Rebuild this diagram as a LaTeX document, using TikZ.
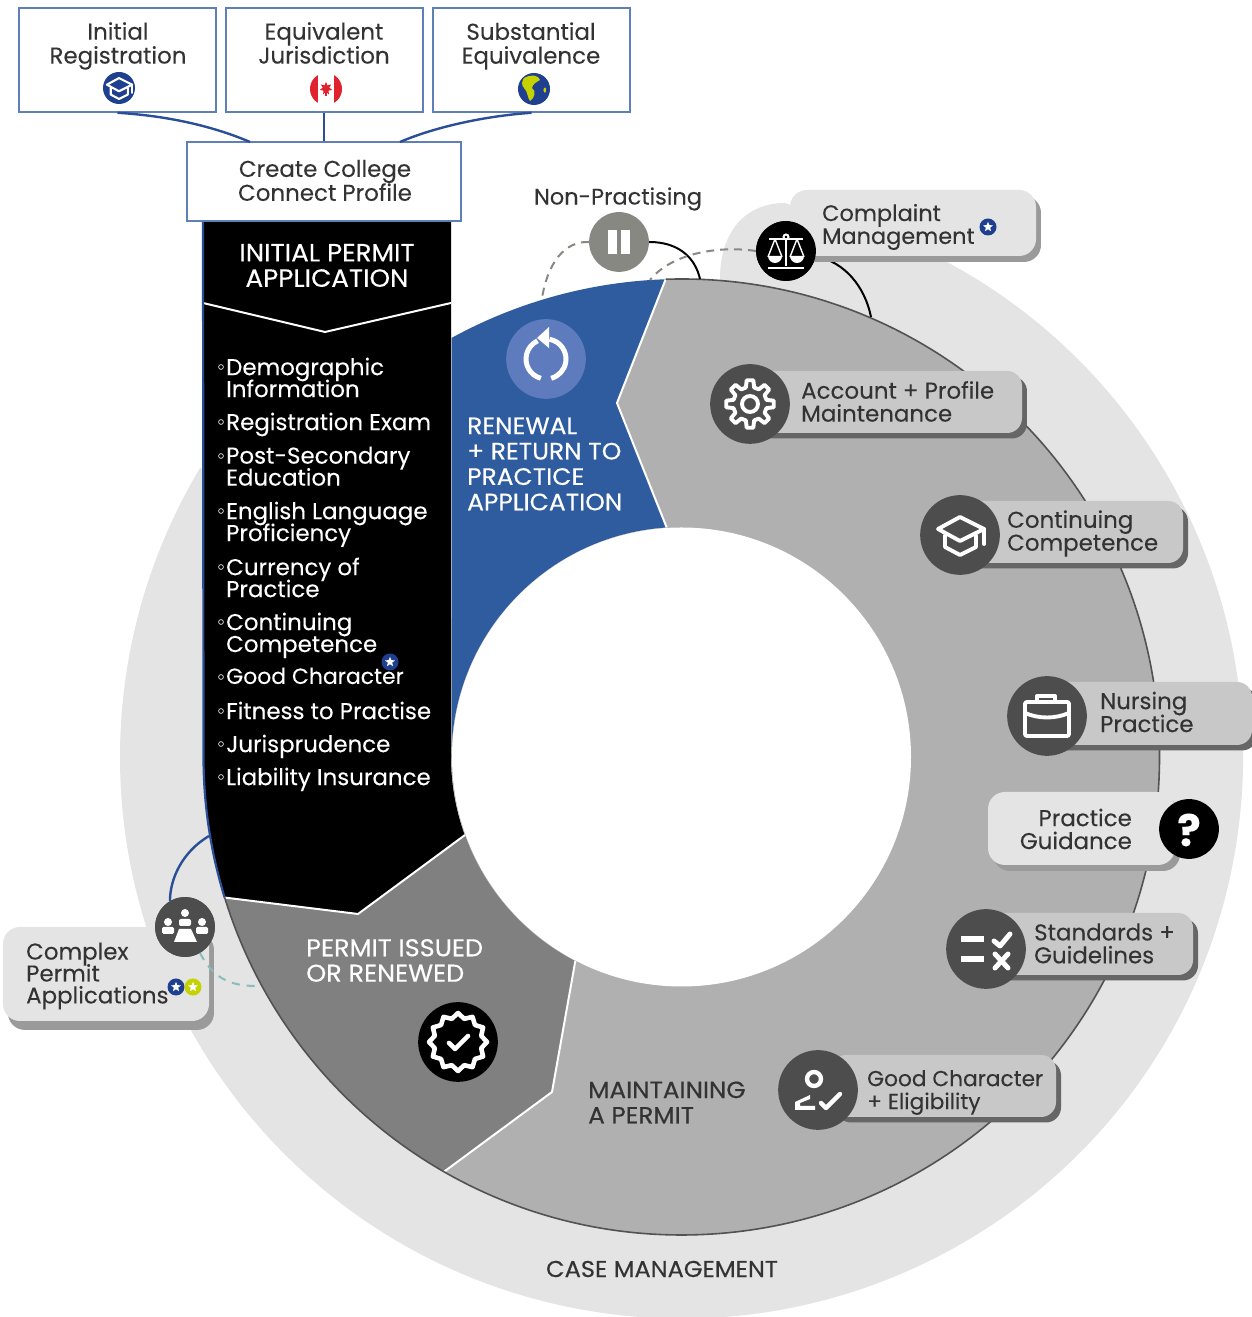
\documentclass[tikz,border=0pt]{standalone}
\usepackage{fontspec}
\setmainfont[FakeBold=0.12]{Poppins}
\newfontfamily\headfont[FakeStretch=1.05,FakeBold=0.35]{Poppins}
\usetikzlibrary{shapes.geometric,shadows}
\newcommand{\tightlines}{\lineskiplimit=-30pt\relax}
\definecolor{ringfill}{HTML}{E4E4E4}
\definecolor{keepfill}{HTML}{B0B0B0}
\definecolor{issuefill}{HTML}{808080}
\definecolor{renewfill}{HTML}{2F5C9E}
\definecolor{renewdisc}{HTML}{5E7CBD}
\definecolor{boxline}{HTML}{5F7FB8}
\definecolor{linkblue}{HTML}{2B4F96}
\definecolor{navy}{HTML}{1F3F8F}
\definecolor{lime}{HTML}{C5D200}
\definecolor{pillfill}{HTML}{C8C8C8}
\definecolor{pillshade}{HTML}{666666}
\definecolor{softshade}{HTML}{9A9A9A}
\definecolor{discdark}{HTML}{4D4D4D}
\definecolor{discpause}{HTML}{888882}
\definecolor{inkdark}{HTML}{333333}
\definecolor{leafred}{HTML}{E0212E}
\tikzset{
  infobox/.style={draw=boxline,line width=1.6pt,fill=white,inner sep=0pt},
  boxtext/.style={align=center,text=inkdark,font=\fontsize{23}{24}\selectfont\tightlines},
  headtext/.style={align=left,font=\headfont\fontsize{23}{25.5}\selectfont\tightlines},
  listtext/.style={align=left,text=white,anchor=north west,inner sep=0pt,font=\fontsize{23}{22}\selectfont\tightlines},
  pilltext/.style={align=left,text=inkdark,anchor=west,inner sep=0pt,font=\fontsize{23}{23}\selectfont\tightlines},
  pill/.style={rounded corners=15pt,fill=pillfill,inner sep=0pt,
    copy shadow={shadow xshift=5pt,shadow yshift=-5.5pt,fill=pillshade,draw=none}},
  softpill/.style={rounded corners=17pt,fill=ringfill,inner sep=0pt,
    copy shadow={shadow xshift=5pt,shadow yshift=-6pt,fill=softshade,draw=none}},
  icondisc/.style={circle,fill=discdark,minimum size=80pt,inner sep=0pt},
  blackdisc/.style={circle,fill=black,minimum size=60pt,inner sep=0pt},
  glyph/.style={draw=white,line width=3.9pt,line join=round,line cap=round,fill=none},
  linkline/.style={draw=linkblue,line width=2.4pt},
  dashline/.style={draw=discpause,line width=2pt,dash pattern=on 8pt off 6pt},
  solidline/.style={draw=black,line width=2pt},
  pics/gearglyph/.style={code={
    \draw[glyph] (-14:17) \foreach \a in {0,45,...,315}{ -- (\a-14:17) -- (\a-8:24) -- (\a+8:24) -- (\a+14:17)} -- cycle;
    \draw[glyph] (0,0) circle[radius=8];
  }},
  pics/capglyph/.style={code={
    \draw[glyph] (-22,6) -- (0,18) -- (24,6) -- (0,-6) -- cycle;
    \draw[glyph] (-15,0) -- (-15,-12) -- (0,-20) -- (16,-12) -- (16,0);
    \draw[glyph] (24,6) -- (24,-9);
  }},
  pics/caseglyph/.style={code={
    \draw[glyph,rounded corners=2pt] (-22,-20) rectangle (22,14);
    \draw[glyph] (-10,14) -- (-10,20) -- (8,20) -- (8,14);
    \draw[glyph] (-22,3) .. controls (-8,-3) and (8,-3) .. (22,3);
  }},
  pics/rulesglyph/.style={code={
    \draw[glyph,line width=5.6pt,line cap=butt] (-25,10) -- (-2,10);
    \draw[glyph,line width=5.6pt,line cap=butt] (-25,-10) -- (-2,-10);
    \draw[glyph,line width=5pt] (8,8) -- (14,3) -- (24,15);
    \draw[glyph,line width=5pt] (9,-5) -- (22,-19);
    \draw[glyph,line width=5pt] (22,-5) -- (9,-19);
  }},
  pics/personglyph/.style={code={
    \draw[glyph,line width=4.4pt] (-4,11) circle[radius=7];
    \fill[white] (-8,-5) -- (-23,-12) -- (-23,-20) -- (-3,-20) -- (-3,-16) -- (-18,-16) -- (-18,-13) -- (-8,-9) -- cycle;
    \draw[glyph,line width=4.4pt] (3,-13) -- (8,-18) -- (22,-4);
  }},
  pics/scalesglyph/.style={code={
    \draw[white,line width=2pt] (0,14) circle[radius=2.5];
    \draw[white,line width=2.4pt] (0,11) -- (0,-15);
    \draw[white,line width=2.4pt] (-18,-17) -- (18,-17);
    \draw[white,line width=2.2pt] (-17,12) -- (17,12);
    \foreach \s in {-1,1}{
      \draw[white,line width=1.4pt] (\s*11,12) -- (\s*18,-6) (\s*11,12) -- (\s*4,-6);
      \fill[white] (\s*11+7,-5) arc[start angle=0,end angle=-180,radius=7] -- cycle;
    }
  }},
  pics/pauseglyph/.style={code={
    \fill[white] (-11,-12) rectangle (-2,12);
    \fill[white] (2,-12) rectangle (11,12);
  }},
  pics/reloadglyph/.style={code={
    \draw[white,line width=5pt] (80:20) arc[start angle=80,end angle=-75,radius=20];
    \draw[white,line width=5pt] (-105:20) arc[start angle=-105,end angle=-245,radius=20];
    \fill[white] (-9,21) -- (3,32) -- (3,11) -- cycle;
  }},
  pics/sealglyph/.style={code={
    \draw[glyph,line width=4.6pt] (0:29) \foreach \a in {15,45,...,345}{ -- (\a:24) -- (\a+15:29)} -- cycle;
    \draw[glyph,line width=4.6pt] (-9,-1) -- (-3,-7) -- (10,6);
  }},
  pics/meetglyph/.style={code={
    \fill[white] (0,14) circle[radius=4];
    \fill[white,rounded corners=2pt] (-6,1) -- (-6,8) -- (6,8) -- (6,1) -- cycle;
    \fill[white] (-6,-2) -- (6,-2) -- (12,-15) -- (-11,-15) -- cycle;
    \foreach \s in {-1,1}{
      \fill[white] (\s*17,5) circle[radius=4];
      \fill[white,rounded corners=1.5pt] (\s*23,-7) -- (\s*23,0) -- (\s*11,0) -- (\s*11,-7) -- cycle;
    }
  }},
  pics/flagglyph/.style={code={
    \fill[white] (0,0) circle[radius=16];
    \begin{scope}
      \clip (0,0) circle[radius=16];
      \fill[leafred] (-16,-16) rectangle (-8,16);
      \fill[leafred] (8,-16) rectangle (16,16);
    \end{scope}
    \node[star,star points=7,star point ratio=1.9,fill=leafred,minimum size=13pt,inner sep=0pt] (-leaf) at (0,0.5) {};
    \fill[leafred] (-0.7,-7) rectangle (0.7,0);
  }},
  pics/globeglyph/.style={code={
    \fill[navy] (0,0) circle[radius=16];
    \fill[lime] (-10,11) .. controls (-4,15) and (5,14) .. (6,9) .. controls (1,6) and (-1,5) .. (-2,1)
      .. controls (3,-2) and (0,-10) .. (-4,-12) .. controls (-7,-8) and (-6,-3) .. (-10,1)
      .. controls (-13,4) and (-12,8) .. (-10,11) -- cycle;
    \fill[lime] (10,1) .. controls (12,3) and (13,-2) .. (11,-4) .. controls (9,-3) and (9,0) .. (10,1) -- cycle;
  }},
  pics/starbadge/.style={code={
    \fill[#1] (0,0) circle[radius=8.5];
    \node[star,star points=5,star point ratio=2.3,fill=white,minimum size=10.5pt,inner sep=0pt] (-mark) at (0,0) {};
  }},
}
\begin{document}
\begin{tikzpicture}[x=1bp,y=1bp]
  \useasboundingbox (0,0) rectangle (1251,1317);
  \coordinate (donut) at (681.5,560);
%% case management ring
  \fill[ringfill] (720,1038) .. controls (720,1085) and (745,1114) .. (785,1114)
    -- ([shift={(78:561.5)}]donut) arc[start angle=78,end angle=-211,radius=561.5] -- (donut) -- cycle;
%% donut
  % Maintaining
  \fill[keepfill] ([shift={(91.9:478)}]donut) arc[start angle=91.9,end angle=-119.8,radius=478]
    -- (552,225) -- ([shift={(242.5:230)}]donut) arc[start angle=242.5,end angle=93.7,radius=230]
    -- (617,914) -- cycle;
  % Issued
  \fill[issuefill] ([shift={(240.2:478)}]donut) arc[start angle=240.2,end angle=197.1,radius=478]
    -- (358,403) -- (465,482) arc[start angle=199.8,end angle=242.5,radius=230]
    -- (552,225) -- cycle;
  % Renewal
  \fill[renewfill] ([shift={(91.9:478)}]donut) -- (617,914) -- ([shift={(93.7:230)}]donut)
    arc[start angle=93.7,end angle=180,radius=230]
    -- ([shift={(118.76:478)}]donut) arc[start angle=118.76,end angle=91.9,radius=478] -- cycle;
  % Initial
  \fill[black] (203,1095) -- (451,1095) -- (451,560) arc[start angle=180,end angle=199.8,radius=230]
    -- (358,403) -- ([shift={(197.1:478)}]donut) arc[start angle=197.1,end angle=180,radius=478] -- cycle;
  \draw[white,line width=2pt] (203,1014) -- (325,985) -- (451,1014);
  \draw[white,line width=2pt] ([shift={(197.1:478)}]donut) -- (358,403) -- (465,482);
  \draw[white,line width=2pt] ([shift={(240.2:478)}]donut) -- (552,225) -- ([shift={(242.5:230)}]donut);
  \draw[white,line width=2pt] ([shift={(91.9:478)}]donut) -- (617,914) -- ([shift={(93.7:230)}]donut);
  \draw[inkdark!85,line width=1.6pt] ([shift={(91.9:478)}]donut) arc[start angle=91.9,end angle=-162.9,radius=478];
  \draw[linkblue,line width=2.2pt] (203,1095) -- (203.5,560) arc[start angle=180,end angle=197.1,radius=478];
  % Hole
  \fill[white] (donut) circle[radius=229.5];
%% intake boxes
  \node[infobox,minimum width=197bp,minimum height=104bp] (initreg) at (117.5,1257) {};
  \node[infobox,minimum width=197bp,minimum height=104bp] (equivjur) at (324.5,1257) {};
  \node[infobox,minimum width=197bp,minimum height=104bp] (substeq) at (531.5,1257) {};
  \node[infobox,minimum width=274bp,minimum height=79bp] (profile) at (324,1135.5) {};
  \coordinate (profileleft) at (250,1175);
  \coordinate (profileright) at (400,1175);
  \draw[linkline] (initreg.south) .. controls (170,1201) and (215,1190) .. (profileleft);
  \draw[linkline] (equivjur.south -| profile.north) -- (profile.north);
  \draw[linkline] (substeq.south) .. controls (485,1201) and (435,1190) .. (profileright);
  \node[boxtext] (initregtext) at (118,1271) {Initial\\Registration};
  \node[boxtext] (equivjurtext) at (324,1274) {Equivalent\\Jurisdiction};
  \node[boxtext] (substeqtext) at (531,1271) {Substantial\\Equivalence};
  \node[boxtext] (profiletext) at (325,1136.5) {Create College\\Connect Profile};
  \fill[navy] (119,1229) circle[radius=16];
  \pic[scale=.55,transform shape,glyph/.append style={line width=2.1pt}] at (119,1229) {capglyph};
  \pic at (326,1228) {flagglyph};
  \pic at (534,1228) {globeglyph};
%% panel text
  \node[headtext,align=center,text=white,font=\headfont\fontsize{25}{25.5}\selectfont\tightlines] (initialhead) at (327,1051.5) {INITIAL PERMIT\\APPLICATION};
  \foreach \y/\txt [count=\i] in {950/{Demographic\\Information},895/{Registration Exam},861/{Post-Secondary\\Education},
      806/{English Language\\Proficiency},750/{Currency of\\Practice},695/{Continuing\\Competence},
      640/{\fontsize{22}{22}\selectfont Good Character},606/{Fitness to Practise},573/{Jurisprudence},540/{Liability Insurance}}{
    \draw[white!80!black,line width=.8pt] (221,\y) circle[radius=2.4];
    \node[listtext] (item\i) at (226,\y+9.5) {\txt};
  }
  \pic at (390,655) {starbadge=navy};
%% stage text
  \node[headtext,text=white,anchor=west,inner sep=0pt,font=\headfont\fontsize{23.8}{25.5}\selectfont\tightlines] (renewtext) at (467,853) {RENEWAL\\+ RETURN TO\\PRACTICE\\APPLICATION};
  \node[headtext,text=white,anchor=west,inner sep=0pt,font=\headfont\fontsize{24.4}{25.5}\selectfont\tightlines] (issuedtext) at (306,356.5) {PERMIT ISSUED\\OR RENEWED};
  \node[headtext,text=inkdark,anchor=west,inner sep=0pt,font=\headfont\fontsize{23.6}{25.5}\selectfont\tightlines] (keeptext) at (588,214.5) {MAINTAINING\\A PERMIT};
  \node[headtext,text=inkdark] (casetext) at (662,48) {CASE MANAGEMENT};
  \node[circle,fill=renewdisc,minimum size=80pt,inner sep=0pt] (renewicon) at (546,958) {};
  \pic at (renewicon) {reloadglyph};
  \node[circle,fill=black,minimum size=80pt,inner sep=0pt] (sealicon) at (458,275) {};
  \pic at (sealicon) {sealglyph};
%% side links
  \node[circle,fill=discpause,minimum size=60pt,inner sep=0pt] (pauseicon) at (619,1075) {};
  \node[blackdisc] (scalesicon) at (786,1066) {};
  \coordinate (pausedash) at (542,1019);
  \coordinate (pausesolid) at (700,1038);
  \coordinate (scalesdash) at (650,1037);
  \coordinate (scalessolid) at (871,1000);
  \draw[dashline] (pauseicon.west) .. controls (565,1076) and (548,1055) .. (pausedash);
  \draw[solidline] (pauseicon.east) .. controls (678,1075) and (695,1060) .. (pausesolid);
  \draw[dashline] (scalesicon.west) .. controls (715,1072) and (670,1062) .. (scalesdash);
  \draw[solidline] (scalesicon.-10) .. controls (845,1055) and (865,1030) .. (scalessolid);
  \node[text=inkdark,font=\fontsize{22.6}{23}\selectfont] (pausetext) at (618,1118) {Non-Practising};
%% pills
  \node[softpill,minimum width=246bp,minimum height=66bp] (complaintpill) at (913,1094) {};
  \node[pilltext,font=\fontsize{22.5}{23}\selectfont\tightlines] (complainttext) at (822,1090) {Complaint\\Management};
  \pic at (988,1090) {starbadge=navy};
  \pic at (pauseicon) {pauseglyph};
  \node[blackdisc] (scalesicon) at (786,1066) {};
  \pic at (scalesicon) {scalesglyph};
  \node[pill,minimum width=272bp,minimum height=62bp] (accountpill) at (886,915) {};
  \node[icondisc] (accounticon) at (750,913) {};
  \pic at (accounticon) {gearglyph};
  \node[pilltext] (accounttext) at (801,915.5) {Account + Profile\\Maintenance};
  \node[pill,minimum width=223bp,minimum height=62bp] (competepill) at (1071.5,785) {};
  \node[icondisc] (competeicon) at (960,782) {};
  \pic at (competeicon) {capglyph};
  \node[pilltext] (competetext) at (1007,783.5) {Continuing\\Competence};
  \node[pill,minimum width=205bp,minimum height=63bp] (nursingpill) at (1149.5,603.5) {};
  \node[icondisc] (nursingicon) at (1047,601) {};
  \pic at (nursingicon) {caseglyph};
  \node[pilltext] (nursingtext) at (1100,605) {Nursing\\Practice};
  \node[softpill,minimum width=187bp,minimum height=73bp] (guidepill) at (1081.5,488.5) {};
  \node[pilltext,align=right,anchor=east] (guidetext) at (1132,488) {Practice\\Guidance};
  \node[blackdisc] (guideicon) at (1189,488) {};
  \node[text=white,inner sep=0pt,font=\fontsize{44}{44}\selectfont\bfseries] (guidemark) at (1189,487) {?};
  \node[pill,minimum width=223bp,minimum height=62bp] (rulespill) at (1081.5,373) {};
  \node[icondisc] (rulesicon) at (986,368) {};
  \pic at (rulesicon) {rulesglyph};
  \node[pilltext] (rulestext) at (1034,373.5) {Standards +\\Guidelines};
  \node[pill,minimum width=225bp,minimum height=62bp] (charpill) at (943.5,231) {};
  \node[icondisc] (charicon) at (818,227) {};
  \pic at (charicon) {personglyph};
  \node[pilltext,font=\fontsize{21.8}{23}\selectfont\tightlines] (chartext) at (867,224.5) {Good Character\\+ Eligibility};
  \coordinate (complextop) at (209,481);
  \coordinate (complexdash) at (258,331);
  \node[softpill,minimum width=206bp,minimum height=94bp,
    copy shadow={shadow xshift=5pt,shadow yshift=-9pt,fill=softshade,draw=none}] (complexpill) at (106,343) {};
  \node[circle,fill=discdark,minimum size=60pt,inner sep=0pt] (complexicon) at (185,390) {};
  \draw[linkline] (complexicon.120) .. controls (170,438) and (182,465) .. (complextop);
  \draw[draw=teal!40!ringfill,line width=2pt,dash pattern=on 8pt off 7pt] (complexicon.-60) .. controls (215,335) and (235,331) .. (complexdash);
  \node[circle,fill=discdark,minimum size=60pt,inner sep=0pt] (complexicon) at (185,390) {};
  \pic at (complexicon) {meetglyph};
  \node[pilltext,font=\fontsize{23}{22}\selectfont\tightlines] (complextext) at (26,341) {Complex\\Permit\\Applications};
  \pic at (176,330) {starbadge=navy};
  \pic at (193,330) {starbadge=lime};
\end{tikzpicture}
\end{document}
